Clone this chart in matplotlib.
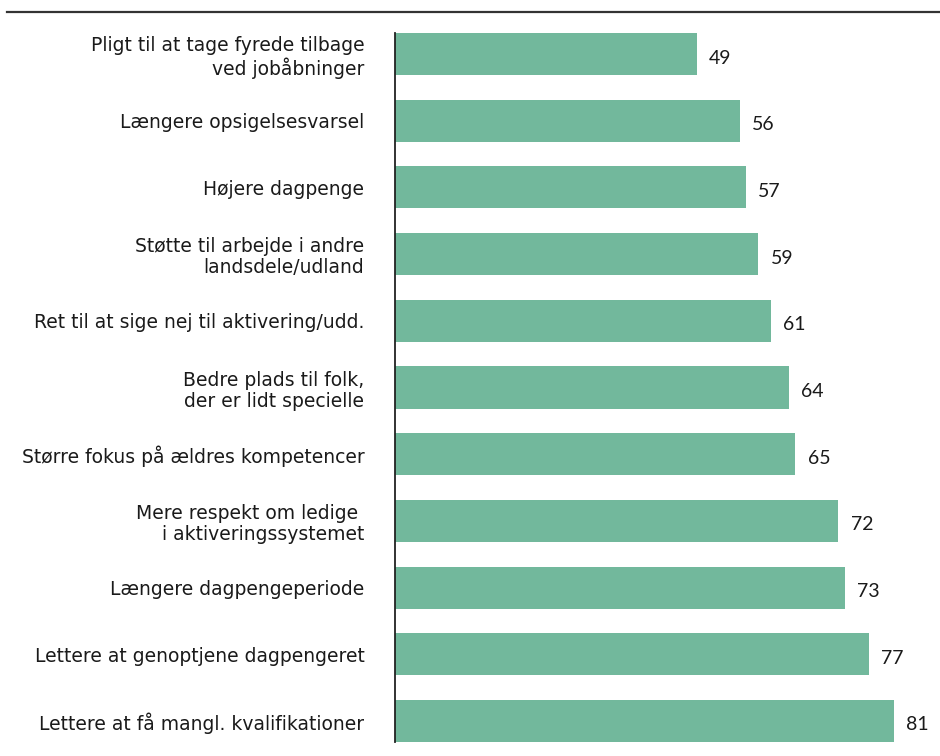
import matplotlib.pyplot as plt
import matplotlib.lines as mlines
from matplotlib import font_manager

labels = [
    "Pligt til at tage fyrede tilbage\nved jobåbninger",
    "Længere opsigelsesvarsel",
    "Højere dagpenge",
    "Støtte til arbejde i andre\nlandsdele/udland",
    "Ret til at sige nej til aktivering/udd.",
    "Bedre plads til folk,\nder er lidt specielle",
    "Større fokus på ældres kompetencer",
    "Mere respekt om ledige \ni aktiveringssystemet",
    "Længere dagpengeperiode",
    "Lettere at genoptjene dagpengeret",
    "Lettere at få mangl. kvalifikationer",
]
values = [49, 56, 57, 59, 61, 64, 65, 72, 73, 77, 81]

bar_color = "#72b89c"
text_color = "#1a1a1a"

installed = {f.name for f in font_manager.fontManager.ttflist}
label_font = "Liberation Sans Narrow" if "Liberation Sans Narrow" in installed else "DejaVu Sans"

fig = plt.figure(figsize=(9.4, 7.56), dpi=100)
ax = fig.add_axes([395 / 940, 14 / 756, 545 / 940, 709 / 756])

y = list(range(len(values)))
bars = ax.barh(y, values, height=0.63, color=bar_color)

ax.set_xlim(0, 88.5)
ax.set_ylim(len(values) - 1 + 0.315, -0.315)

ax.set_yticks(y)
ax.set_yticklabels(labels, fontsize=13.5, family=label_font, color=text_color,
                   linespacing=1.15)
ax.tick_params(axis="y", length=0, pad=22)
for t in ax.get_yticklabels():
    t.set_y(t.get_position()[1])
ax.set_xticks([])

for s in ["top", "right", "bottom"]:
    ax.spines[s].set_visible(False)
ax.spines["left"].set_color("#222222")
ax.spines["left"].set_linewidth(1.3)

for b, v in zip(bars, values):
    ax.text(b.get_width() + 2.0, b.get_y() + b.get_height() / 2 + 0.06, str(v),
            va="center", ha="left", fontsize=14, family="Lato", color=text_color)

# rule across the top
fig.add_artist(mlines.Line2D([7 / 940, 1], [1 - 12 / 756, 1 - 12 / 756],
                             color="#333333", linewidth=1.6,
                             transform=fig.transFigure))

plt.savefig("out.png", dpi=100)
